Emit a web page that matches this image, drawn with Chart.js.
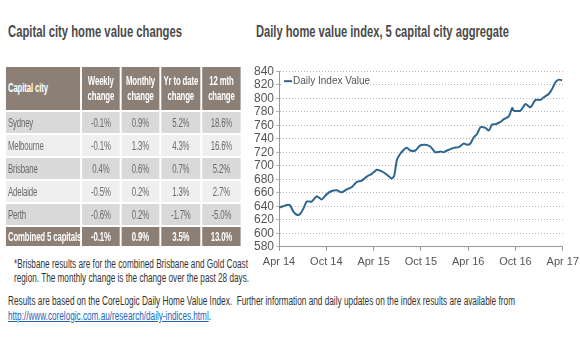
<!DOCTYPE html>
<html>
<head>
<meta charset="utf-8">
<script src="https://cdn.jsdelivr.net/npm/chart.js@4.4.1/dist/chart.umd.min.js"></script>
<style>
  body { margin: 0; background: #fff; width: 580px; height: 352px; overflow: hidden; position: relative;
         font-family: "Liberation Sans", Arial, sans-serif; color: #444; }
  .fit { position: absolute; white-space: nowrap; transform-origin: 0 0; }
  .title { top: 22px; font-weight: bold; font-size: 17px; color: #4a4a4a; }
  #tableWrap { position: absolute; left: 4px; top: 65px; transform-origin: 0 0; transform: scaleX(0.65); }
  table { border-collapse: separate; border-spacing: 3px 2px; table-layout: fixed; width: 367px; }
  td, th { font-size: 12px; letter-spacing: -0.2px; padding: 0; text-align: center; color: #6a6a6a; white-space: nowrap; overflow: hidden; }
  th { background: #8c7f75; color: #fff; font-weight: bold; height: 43px; line-height: 15px; }
  th.city, td.city { text-align: left; padding-left: 3px; }
  tr.dark td { background: #d9d9d9; }
  tr.light td { background: #efefef; }
  td { height: 21px; }
  tr.total td { background: #8c7f75; color: #fff; font-weight: bold; height: 19px; }
  .note { font-size: 12px; color: #333; }
  a { color: #2563b6; }
  #chartBox { position: absolute; left: 251px; top: 62px; width: 333px; height: 212px; }
</style>
</head>
<body>
<div class="fit title" data-w="174" style="left:8px">Capital city home value changes</div>
<div class="fit title" data-w="253" style="left:256px">Daily home value index, 5 capital city aggregate</div>

<div id="tableWrap"><table id="changes"></table></div>

<div class="fit note" data-w="234" style="left:14px; top:257px">*Brisbane results are for the combined Brisbane and Gold Coast</div>
<div class="fit note" data-w="235" style="left:14px; top:271px">region. The monthly change is the change over the past 28 days.</div>
<div class="fit note" data-w="507" style="left:8px; top:294px">Results are based on the CoreLogic Daily Home Value Index.&nbsp; Further information and daily updates on the index results are available from</div>
<div class="fit note" data-w="203" style="left:8px; top:309px"><a href="#">http://www.corelogic.com.au/research/daily-indices.html</a>.</div>

<div id="chartBox"><canvas id="indexChart"></canvas></div>

<script>
// table data
const cities = ["Sydney", "Melbourne", "Brisbane", "Adelaide", "Perth", "Combined 5 capitals"];
const weekly = ["-0.1%", "-0.1%", "0.4%", "-0.5%", "-0.6%", "-0.1%"];
const monthly = ["0.9%", "1.3%", "0.6%", "0.2%", "0.2%", "0.9%"];
const yearToDate = ["5.2%", "4.3%", "0.7%", "1.3%", "-1.7%", "3.5%"];
const twelveMonth = ["18.6%", "16.6%", "5.2%", "2.7%", "-5.0%", "13.0%"];

// chart data: months since Apr 2014 and index value
const monthsFromStart = [0, 0.55, 0.97, 1.4, 1.82, 2.33, 2.67, 3.09, 3.52, 4.15, 4.79, 5.42, 6.06, 6.69, 7.33,
    7.97, 8.6, 9.24, 9.87, 10.5, 11.14, 11.78, 12.42, 13.05, 13.69, 14.32, 14.62, 14.96, 15.38, 15.8,
    16.23, 16.65, 17.29, 17.92, 18.56, 19.19, 19.83, 20.47, 20.89, 21.31, 22.16, 22.8, 23.43, 23.86,
    24.28, 24.7, 25.13, 25.55, 26.19, 26.61, 27.03, 27.46, 28.09, 28.52, 29.15, 29.58, 29.79, 30.64,
    31.27, 31.9, 32.54, 33.18, 33.6, 34.24, 34.66, 35.08, 35.5, 35.93];
const indexValues = [638, 640, 642, 641.5, 632, 627, 628.5, 636.5, 647, 647, 655, 650, 658, 662.6, 663.6,
    660.6, 665, 668.5, 676, 678, 684, 688, 694, 691.6, 686.7, 681, 685.7, 708.8, 717.7, 723.5,
    726.5, 722.6, 722.6, 730, 731, 728.5, 720, 721, 720, 722.6, 726.5, 727.5, 733, 731,
    733, 742, 747, 757, 756, 752, 761, 761.5, 765, 769, 773, 785.5, 781.5, 781.5,
    791.5, 786.5, 797.5, 797.5, 801.5, 806.5, 814, 824, 827.5, 826.5];
const xTickLabels = ["Apr 14", "Oct 14", "Apr 15", "Oct 15", "Apr 16", "Oct 16", "Apr 17"];
const seriesName = "Daily Index Value";

const table = document.getElementById("changes");
let html = '<colgroup><col style="width:114px"><col style="width:58px"><col style="width:58px"><col style="width:60px"><col style="width:59px"></colgroup>' +
    '<tr><th class="city">Capital city</th><th>Weekly<br>change</th>' +
    '<th>Monthly<br>change</th><th>Yr to date<br>change</th><th>12 mth<br>change</th></tr>';
cities.forEach((city, i) => {
    const cls = i === cities.length - 1 ? "total" : (i % 2 === 0 ? "dark" : "light");
    html += `<tr class="${cls}"><td class="city">${city}</td><td>${weekly[i]}</td><td>${monthly[i]}</td>` +
        `<td>${yearToDate[i]}</td><td>${twelveMonth[i]}</td></tr>`;
});
table.innerHTML = html;

// squeeze text lines to the condensed widths of the original
document.querySelectorAll(".fit").forEach(el => {
    const w = el.getBoundingClientRect().width;
    el.style.transform = `scaleX(${el.dataset.w / w})`;
});

const lineColor = "#2d6690";
const tickFont = { family: "'Liberation Sans', Arial, sans-serif", size: 11 };

// legend drawn inside the plot, top left
const insideLegend = {
    id: "insideLegend",
    afterDraw(chart) {
        const ctx = chart.ctx;
        const area = chart.chartArea;
        const x = area.left + 4, y = area.top + 10;
        ctx.save();
        ctx.fillStyle = "#fff";
        ctx.fillRect(x, y - 6, 76, 12);
        ctx.strokeStyle = lineColor;
        ctx.lineWidth = 2;
        ctx.beginPath();
        ctx.moveTo(x + 1, y);
        ctx.lineTo(x + 9, y);
        ctx.stroke();
        ctx.fillStyle = "#555";
        ctx.font = "10px 'Liberation Sans', Arial, sans-serif";
        ctx.textBaseline = "middle";
        ctx.fillText(chart.data.datasets[0].label, x + 10, y);
        ctx.restore();
    }
};

new Chart(document.getElementById("indexChart"), {
    type: "line",
    data: {
        datasets: [{
            label: seriesName,
            data: monthsFromStart.map((m, i) => ({ x: m, y: indexValues[i] })),
            borderColor: lineColor,
            borderWidth: 2,
            pointRadius: 0,
            tension: 0.2
        }]
    },
    options: {
        responsive: true,
        maintainAspectRatio: false,
        animation: false,
        layout: { padding: 0 },
        plugins: { legend: { display: false }, tooltip: { enabled: false } },
        scales: {
            x: {
                type: "linear",
                min: 0,
                max: 36,
                ticks: {
                    stepSize: 6,
                    color: "#555",
                    font: tickFont,
                    maxRotation: 0,
                    padding: 5,
                    callback: v => xTickLabels[v / 6]
                },
                grid: { drawOnChartArea: false, tickLength: 4, color: "#999" },
                border: { color: "#999" }
            },
            y: {
                min: 580,
                max: 840,
                ticks: { stepSize: 20, autoSkip: false, color: "#555", font: { family: tickFont.family, size: 12 }, padding: 2 },
                grid: { color: "#b5b5b5", tickLength: 3 },
                border: { color: "#999", dash: [1, 2] },
                afterFit(scale) { scale.width = 28; }
            }
        }
    },
    plugins: [insideLegend]
});
</script>
</body>
</html>
